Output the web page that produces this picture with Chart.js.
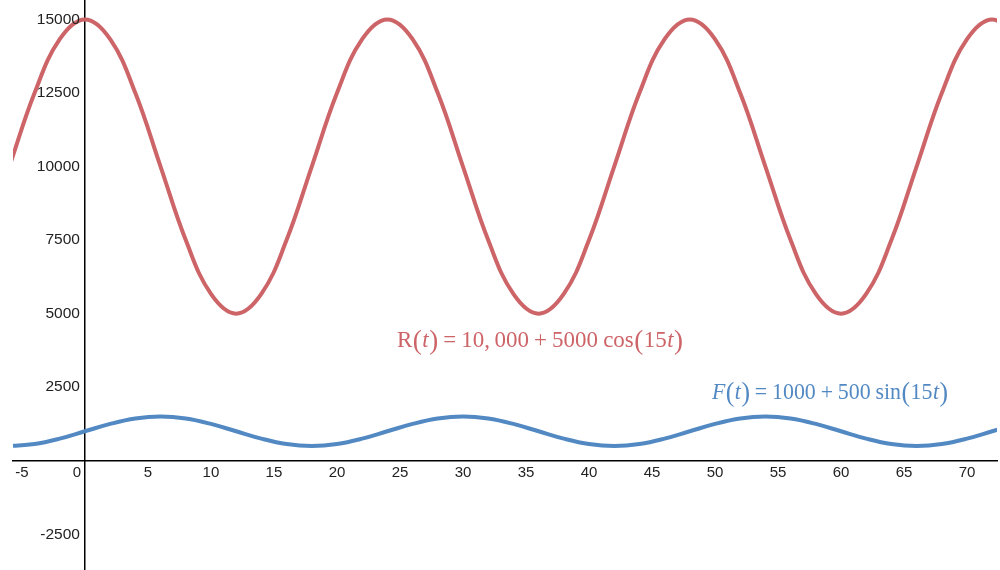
<!DOCTYPE html>
<html>
<head>
<meta charset="utf-8">
<script src="https://cdn.jsdelivr.net/npm/chart.js@4/dist/chart.umd.min.js"></script>
<style>
  body { margin: 0; background: #fff; }
  #wrap { width: 1000px; height: 570px; }
</style>
</head>
<body>
<div id="wrap"><canvas id="funcChart" width="1000" height="570"></canvas></div>
<script>
// t values (x axis) sampled every 2 units
const tValues = [-6, -4, -2, 0, 2, 4, 6, 8, 10, 12, 14, 16, 18, 20, 22, 24, 26, 28, 30, 32, 34, 36, 38, 40,
                 42, 44, 46, 48, 50, 52, 54, 56, 58, 60, 62, 64, 66, 68, 70, 72, 74];
// R(t)
const rValues = [10000, 12500, 14330, 15000, 14330, 12500, 10000, 7500, 5670, 5000, 5670, 7500, 10000, 12500,
                 14330, 15000, 14330, 12500, 10000, 7500, 5670, 5000, 5670, 7500, 10000, 12500, 14330, 15000,
                 14330, 12500, 10000, 7500, 5670, 5000, 5670, 7500, 10000, 12500, 14330, 15000, 14330];
// F(t)
const fValues = [500, 567, 750, 1000, 1250, 1433, 1500, 1433, 1250, 1000, 750, 567, 500, 567, 750, 1000,
                 1250, 1433, 1500, 1433, 1250, 1000, 750, 567, 500, 567, 750, 1000, 1250, 1433, 1500, 1433,
                 1250, 1000, 750, 567, 500, 567, 750, 1000, 1250];

// tick labels (origin "0" is drawn separately)
const xTickValues = [-5, 5, 10, 15, 20, 25, 30, 35, 40, 45, 50, 55, 60, 65, 70];
const yTickValues = [-2500, 2500, 5000, 7500, 10000, 12500, 15000];

const redColor = '#cc6468';
const blueColor = '#5289c3';
const tickFont = '"Liberation Sans", Arial, sans-serif';

function toPoints(ys) {
    return tValues.map((t, i) => ({ x: t, y: ys[i] }));
}

// formula labels, drawn piece by piece: [text, italic, big paren]
const rLabel = [['R', false, false], ['(', false, true], ['t', true, false], [')', false, true], ['\u2009=\u2009', false, false],
                ['10,\u2009000', false, false], ['\u2009+\u2009', false, false], ['5000', false, false], ['\u2009cos', false, false],
                ['(', false, true], ['15', false, false], ['t', true, false], [')', false, true]];
const fLabel = [['F', true, false], ['(', false, true], ['t', true, false], [')', false, true], ['\u2009=\u2009', false, false],
                ['1000', false, false], ['\u2009+\u2009', false, false], ['500', false, false], ['\u2009sin', false, false],
                ['(', false, true], ['15', false, false], ['t', true, false], [')', false, true]];

function drawFormula(ctx, parts, left, baseY, width, color) {
    const fontOf = (p) => (p[1] ? 'italic ' : '') + (p[2] ? 27 : 23) + 'px "Liberation Serif", "Times New Roman", serif';
    const gap = 0.5;
    let total = 0;
    parts.forEach(p => { ctx.font = fontOf(p); total += ctx.measureText(p[0]).width + gap; });
    total -= gap;
    ctx.save();
    ctx.translate(left, 0);
    ctx.scale(width / total, 1);
    ctx.fillStyle = color;
    ctx.textBaseline = 'alphabetic';
    ctx.textAlign = 'left';
    let x = 0;
    parts.forEach(p => {
        ctx.font = fontOf(p);
        ctx.fillText(p[0], x, p[2] ? baseY + 2 : baseY);
        x += ctx.measureText(p[0]).width + gap;
    });
    ctx.restore();
}

const labelsPlugin = {
    id: 'labelsPlugin',
    afterDraw(chart) {
        const ctx = chart.ctx;
        const xs = chart.scales.x, ys = chart.scales.y;
        const x0 = xs.getPixelForValue(0), y0 = ys.getPixelForValue(0);
        ctx.save();
        ctx.fillStyle = '#222';
        // y tick labels, left of the vertical axis
        ctx.font = '15.5px ' + tickFont;
        ctx.textAlign = 'right';
        ctx.textBaseline = 'middle';
        yTickValues.forEach(v => ctx.fillText(String(v), x0 - 5, ys.getPixelForValue(v)));
        // origin label
        ctx.font = '15px ' + tickFont;
        ctx.textAlign = 'center';
        ctx.fillText('0', x0 - 8, y0 + 12);
        drawFormula(ctx, rLabel, 397, 347, 286, redColor);
        drawFormula(ctx, fLabel, 712, 399, 236, blueColor);
        ctx.restore();
    }
};

const ctx = document.getElementById('funcChart').getContext('2d');
new Chart(ctx, {
    type: 'line',
    data: {
        datasets: [{
            label: 'R(t)',
            data: toPoints(rValues),
            borderColor: redColor,
            borderWidth: 4,
            pointRadius: 0,
            tension: 0.4,
            fill: false
        }, {
            label: 'F(t)',
            data: toPoints(fValues),
            borderColor: blueColor,
            borderWidth: 4,
            pointRadius: 0,
            tension: 0.4,
            fill: false
        }]
    },
    options: {
        responsive: false,
        animation: false,
        layout: { padding: { left: 13, right: 3, top: 0, bottom: 0 } },
        plugins: { legend: { display: false }, tooltip: { enabled: false } },
        scales: {
            x: {
                type: 'linear',
                min: -5.71,
                max: 72.38,
                position: { y: 0 },
                grid: { display: false, drawTicks: false },
                border: { display: true, color: '#000', width: 1.5 },
                ticks: {
                    padding: 3,
                    color: '#222',
                    maxRotation: 0,
                    autoSkip: false,
                    font: { family: tickFont, size: 15 }
                },
                afterBuildTicks(scale) {
                    scale.ticks = xTickValues.map(v => ({ value: v }));
                }
            },
            y: {
                type: 'linear',
                min: -3716,
                max: 15663,
                position: { x: 0 },
                grid: { display: false, drawTicks: false },
                border: { display: true, color: '#000', width: 1.5 },
                ticks: { display: false },
                afterBuildTicks(scale) {
                    scale.ticks = yTickValues.map(v => ({ value: v }));
                }
            }
        }
    },
    plugins: [labelsPlugin]
});
</script>
</body>
</html>
